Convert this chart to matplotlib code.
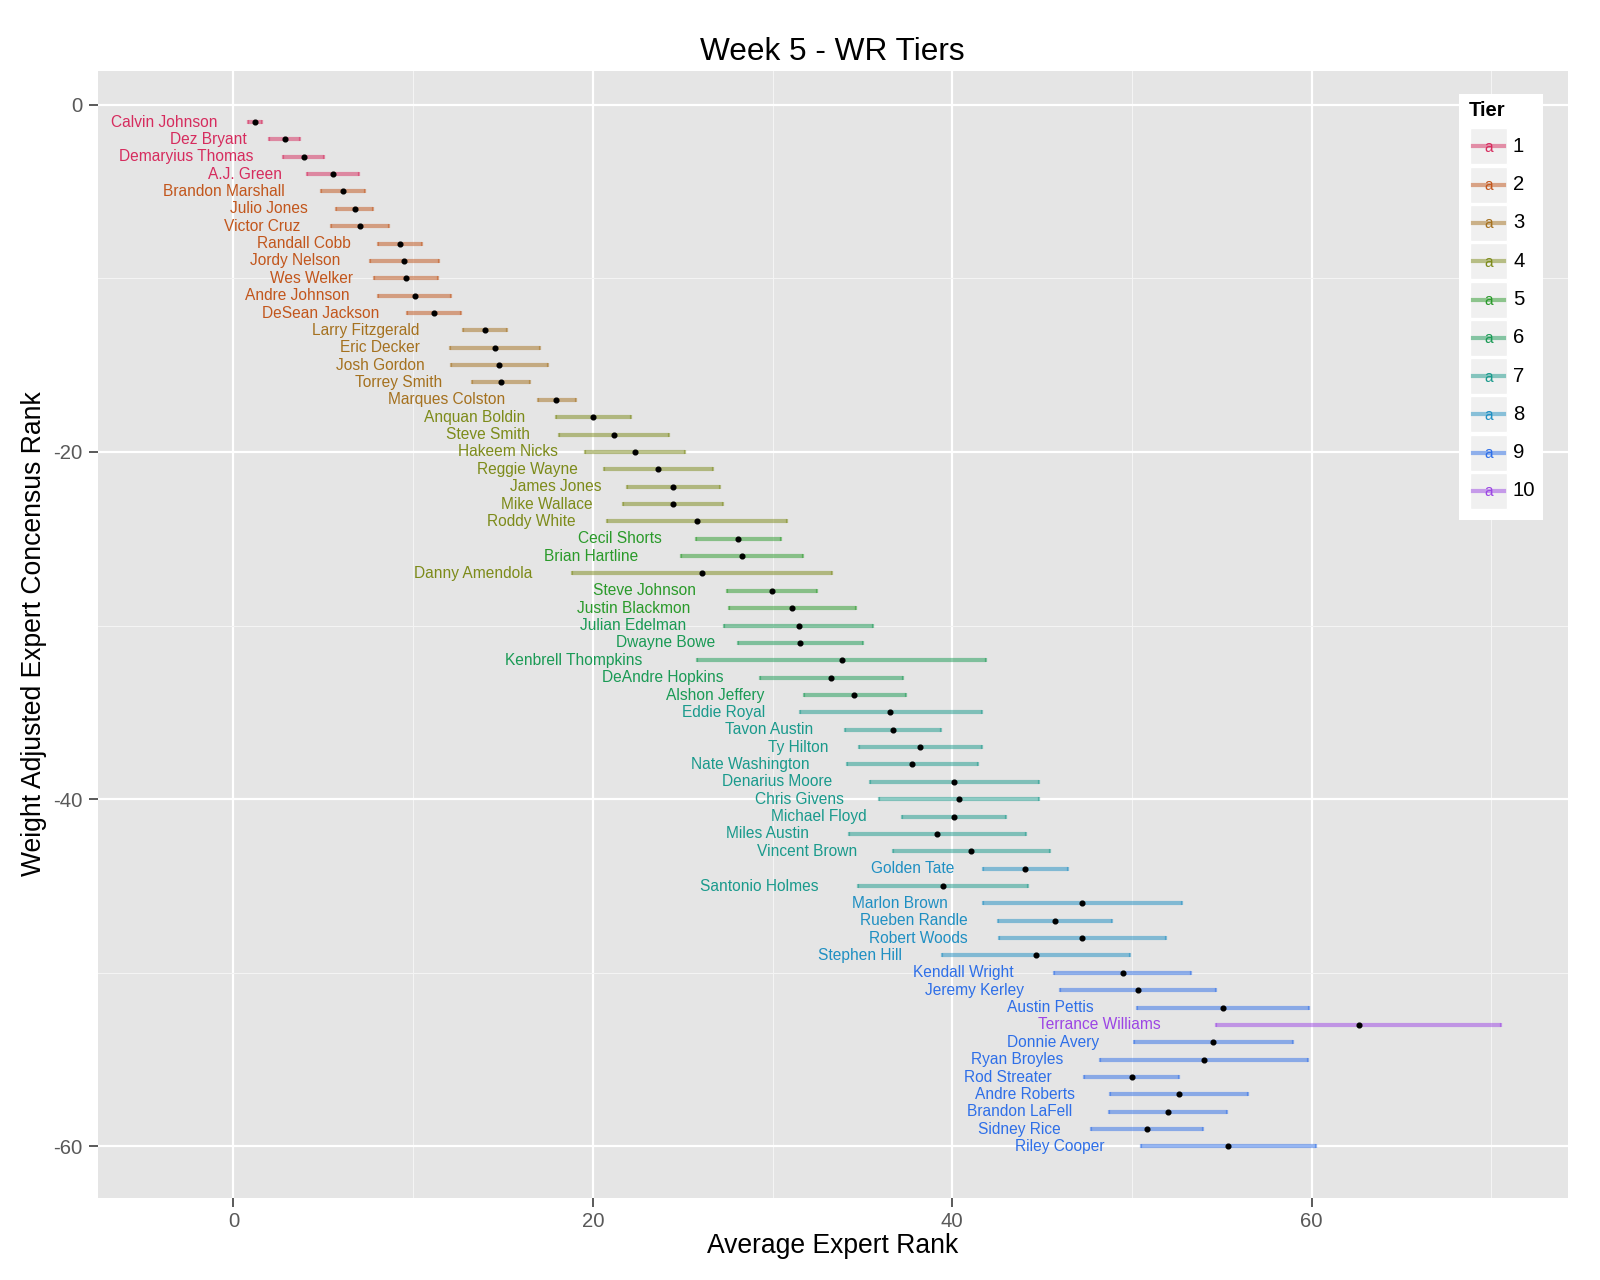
import matplotlib
matplotlib.use("Agg")
import matplotlib.pyplot as plt
from matplotlib.patches import Rectangle
from matplotlib.lines import Line2D
import numpy as np

plt.rcParams['font.family'] = ['Liberation Sans', 'DejaVu Sans']
plt.rcParams['axes.unicode_minus'] = False

# ---------------- data ----------------
players = [
    "Calvin Johnson", "Dez Bryant", "Demaryius Thomas", "A.J. Green",
    "Brandon Marshall", "Julio Jones", "Victor Cruz", "Randall Cobb",
    "Jordy Nelson", "Wes Welker", "Andre Johnson", "DeSean Jackson",
    "Larry Fitzgerald", "Eric Decker", "Josh Gordon", "Torrey Smith",
    "Marques Colston", "Anquan Boldin", "Steve Smith", "Hakeem Nicks",
    "Reggie Wayne", "James Jones", "Mike Wallace", "Roddy White",
    "Cecil Shorts", "Brian Hartline", "Danny Amendola", "Steve Johnson",
    "Justin Blackmon", "Julian Edelman", "Dwayne Bowe", "Kenbrell Thompkins",
    "DeAndre Hopkins", "Alshon Jeffery", "Eddie Royal", "Tavon Austin",
    "Ty Hilton", "Nate Washington", "Denarius Moore", "Chris Givens",
    "Michael Floyd", "Miles Austin", "Vincent Brown", "Golden Tate",
    "Santonio Holmes", "Marlon Brown", "Rueben Randle", "Robert Woods",
    "Stephen Hill", "Kendall Wright", "Jeremy Kerley", "Austin Pettis",
    "Terrance Williams", "Donnie Avery", "Ryan Broyles", "Rod Streater",
    "Andre Roberts", "Brandon LaFell", "Sidney Rice", "Riley Cooper",
]
consensus_rank = list(range(1, 61))
avg_rank = [
    1.19, 2.84, 3.90, 5.53, 6.08, 6.74, 7.02, 9.26, 9.51, 9.61,
    10.09, 11.15, 13.99, 14.55, 14.80, 14.90, 17.96, 20.02, 21.19, 22.34,
    23.65, 24.46, 24.44, 25.79, 28.08, 28.30, 26.05, 29.96, 31.11, 31.45,
    31.55, 33.85, 33.27, 34.56, 36.55, 36.71, 38.23, 37.78, 40.12, 40.40,
    40.08, 39.18, 41.07, 44.06, 39.49, 47.25, 45.71, 47.23, 44.65, 49.48,
    50.35, 55.07, 62.62, 54.52, 54.00, 49.98, 52.60, 52.01, 50.86, 55.37,
]
rank_low = [
    0.80, 1.98, 2.76, 4.10, 4.85, 5.70, 5.41, 8.02, 7.59, 7.81,
    8.07, 9.65, 12.78, 12.05, 12.11, 13.29, 16.93, 17.93, 18.14, 19.55,
    20.63, 21.88, 21.70, 20.80, 25.73, 24.89, 18.82, 27.44, 27.58, 27.32,
    28.08, 25.81, 29.31, 31.73, 31.51, 34.05, 34.80, 34.13, 35.40, 35.95,
    37.20, 34.23, 36.72, 41.71, 34.77, 41.71, 42.53, 42.59, 39.43, 45.65,
    46.00, 50.31, 54.69, 50.09, 48.22, 47.34, 48.77, 48.75, 47.74, 50.50,
]
rank_high = [
    1.58, 3.70, 5.04, 6.96, 7.31, 7.78, 8.63, 10.50, 11.43, 11.41,
    12.09, 12.65, 15.21, 17.05, 17.48, 16.50, 19.04, 22.11, 24.23, 25.13,
    26.67, 27.06, 27.22, 30.80, 30.45, 31.72, 33.29, 32.48, 34.62, 35.57,
    35.04, 41.88, 37.28, 37.40, 41.63, 39.39, 41.67, 41.45, 44.84, 44.85,
    42.99, 44.13, 45.43, 46.42, 44.22, 52.79, 48.90, 51.87, 49.87, 53.30,
    54.70, 59.83, 70.55, 58.95, 59.78, 52.62, 56.44, 55.27, 53.98, 60.24,
]
tiers = [
    1, 1, 1, 1, 2, 2, 2, 2, 2, 2,
    2, 2, 3, 3, 3, 3, 3, 4, 4, 4,
    4, 4, 4, 4, 5, 5, 4, 5, 5, 6,
    6, 6, 6, 6, 7, 7, 7, 7, 7, 7,
    7, 7, 7, 8, 7, 8, 8, 8, 8, 9,
    9, 9, 10, 9, 9, 9, 9, 9, 9, 9,
]
tier_levels = [1, 2, 3, 4, 5, 6, 7, 8, 9, 10]

title = "Week 5 - WR Tiers"
xlabel = "Average Expert Rank"
ylabel = "Weight Adjusted Expert Concensus Rank"
x_ticks = [0, 20, 40, 60]
y_ticks = [0, -20, -40, -60]

# ---------------- style ----------------
tier_colors = {
    1: "#D62C5E", 2: "#C2561C", 3: "#A5711F", 4: "#7D8B1A", 5: "#2A9A2A",
    6: "#1A9A55", 7: "#1A9A8C", 8: "#1F8FC2", 9: "#2E6FE8", 10: "#9C45E4",
}
W, H = 1600, 1280
fig = plt.figure(figsize=(W / 100, H / 100), dpi=100)
fig.patch.set_facecolor("white")

pl, pr, pt, pb = 97.7, 1568.0, 70.8, 1197.7
ax = fig.add_axes([pl / W, 1 - pb / H, (pr - pl) / W, (pb - pt) / H])
ax.set_facecolor("#E5E5E5")

avg = np.array(avg_rank)
lo = np.array(rank_low)
hi = np.array(rank_high)
yv = -np.array(consensus_rank, dtype=float)
tv = np.array(tiers)
half = (hi - lo) / 2
nchar = np.array([len(p) for p in players])
label_x = avg - nchar / 3.05 - 1.12 * half

for t in tier_levels:
    m = tv == t
    c = tier_colors[t]
    ax.errorbar(avg[m], yv[m], xerr=[avg[m] - lo[m], hi[m] - avg[m]], fmt="none",
                ecolor=c, elinewidth=3.0, capsize=1.6, capthick=1.6, alpha=0.5, zorder=3)
ax.plot(avg, yv, "o", color="black", markersize=3.4, zorder=4)
for i, name in enumerate(players):
    ax.text(label_x[i], yv[i], name, ha="center", va="center",
            color=tier_colors[tiers[i]], fontsize=11.2, zorder=5)

ax.set_xticks(x_ticks)
ax.set_yticks(y_ticks)
ax.set_xticks([10, 30, 50, 70], minor=True)
ax.set_yticks([-10, -30, -50], minor=True)

# limits with ggplot-like 5% expansion
xmin_d = min(label_x.min(), lo.min())
xmax_d = hi.max()
xr = xmax_d - xmin_d
ax.set_xlim(xmin_d - 0.05 * xr, xmax_d + 0.05 * xr)
ymin_d, ymax_d = yv.min(), yv.max()
yr = ymax_d - ymin_d
ax.set_ylim(ymin_d - 0.05 * yr, ymax_d + 0.05 * yr)

ax.grid(which="major", color="white", linewidth=1.6)
ax.grid(which="minor", color="#F4F4F4", linewidth=0.8)
ax.set_axisbelow(True)
for s in ax.spines.values():
    s.set_visible(False)
ax.tick_params(which="major", length=6.8, width=1.4, color="#595959",
               labelsize=14.6, labelcolor="#595959", pad=3.5)
ax.tick_params(axis="y", pad=4.5)
ax.tick_params(which="minor", length=0)

# titles
fig.text(832.5 / W, 1 - 52 / H, title, ha="center", va="center", fontsize=22.8, color="black")
fig.text(832.5 / W, 1 - 1246 / H, xlabel, ha="center", va="center", fontsize=19.1, color="black")
fig.text(34 / W, 1 - 634 / H, ylabel, ha="center", va="center", rotation=90,
         fontsize=19.1, color="black")

# legend (ggplot-style, inside panel top-right)
def fx(x):
    return x / W

def fy(y):
    return 1 - y / H

lx0, lx1, ly0, ly1 = 1459, 1543, 94, 520
fig.patches.append(Rectangle((fx(lx0), fy(ly1)), fx(lx1) - fx(lx0), fy(ly0) - fy(ly1),
                             transform=fig.transFigure, facecolor="white",
                             edgecolor="none", zorder=10))
fig.text(fx(1469), fy(111), "Tier", ha="left", va="center", fontsize=14.6,
         fontweight="bold", color="black", zorder=11)
for i, t in enumerate(tier_levels):
    top = 128.3 + i * 38.3
    c = tier_colors[t]
    fig.patches.append(Rectangle((fx(1470), fy(top + 36)), fx(1506.5) - fx(1470),
                                 fy(top) - fy(top + 36), transform=fig.transFigure,
                                 facecolor="#F0F0F0", edgecolor="white", linewidth=1,
                                 zorder=11))
    yc = top + 18
    fig.lines.append(Line2D([fx(1473), fx(1504)], [fy(yc), fy(yc)], transform=fig.transFigure,
                            color=c, alpha=0.5, linewidth=3.0, zorder=12))
    fig.text(fx(1488.2), fy(yc + 1), "a", ha="center", va="center", fontsize=11.2,
             color=c, zorder=13)
    fig.text(fx(1513), fy(yc), str(t), ha="left", va="center", fontsize=14.6,
             color="black", zorder=13)

fig.savefig("out.png", dpi=100, facecolor="white")
